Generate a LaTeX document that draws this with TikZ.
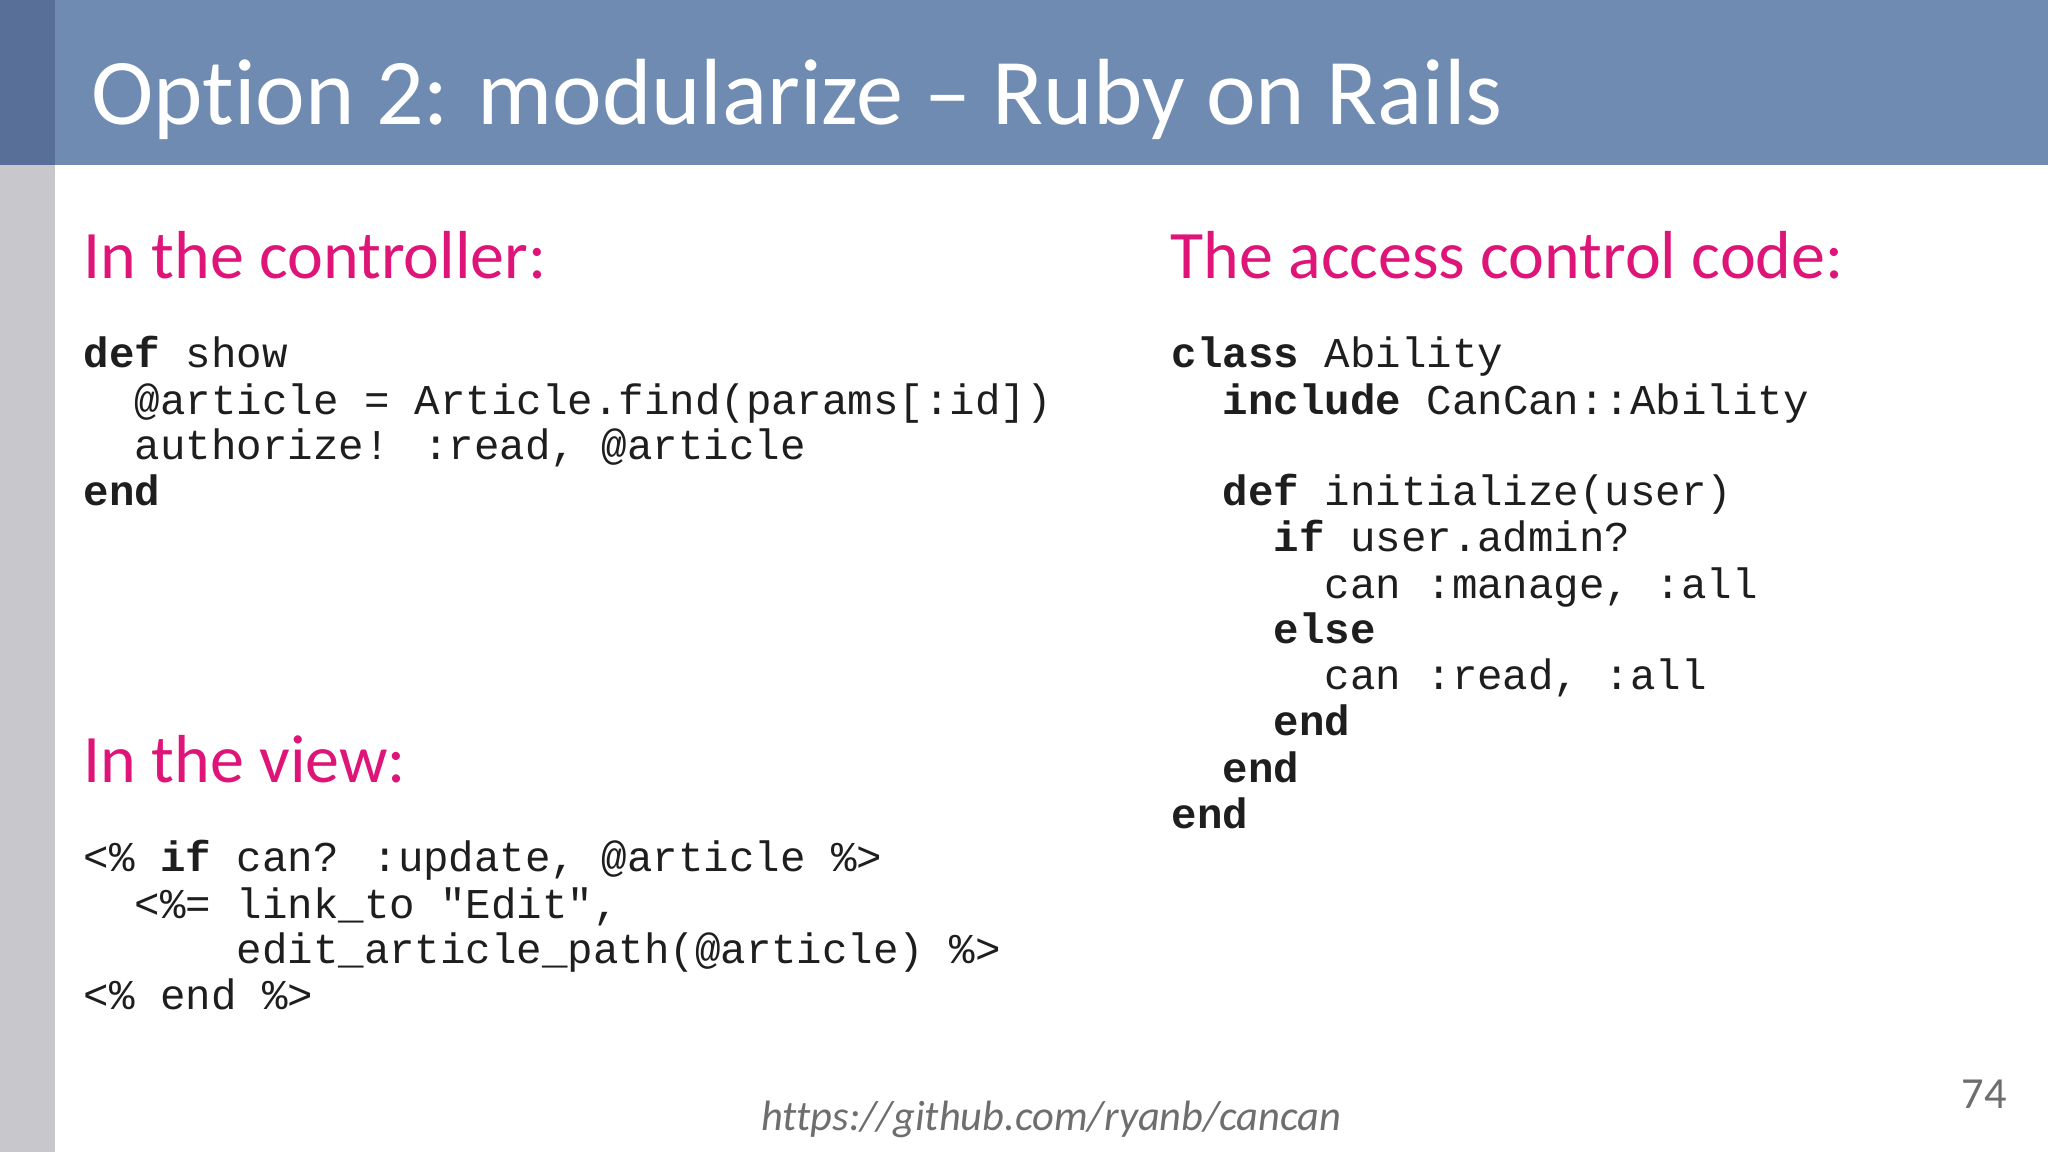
\documentclass[tikz,border=0pt]{standalone}
\usepackage{fontspec}
\setmainfont{Carlito}[Ligatures=NoCommon]
\newfontfamily\codef{Liberation Mono}
\definecolor{band}{RGB}{112,139,177}
\definecolor{bandd}{RGB}{88,112,152}
\definecolor{side}{RGB}{200,200,204}
\definecolor{pink}{RGB}{222,20,120}
\definecolor{txt}{RGB}{30,30,30}
\definecolor{foot}{RGB}{110,110,110}
\tikzset{
 code/.style={anchor=base west,inner sep=0pt,font=\codef\fontsize{32.5}{35}\selectfont,text=txt},
 head/.style={anchor=west,inner sep=0pt,font=\fontsize{52}{58}\selectfont,text=pink},
}
\newcommand{\ind}[1]{\hspace*{#1\dimexpr 0.6em\relax}}
\begin{document}
\begin{tikzpicture}[x=1pt,y=-1pt]
\useasboundingbox (0,0) rectangle (1568,882);
\fill[white] (0,0) rectangle (1568,882);
\fill[side] (0,0) rectangle (42,882);
\fill[band] (0,0) rectangle (1568,126);
\fill[bandd] (0,0) rectangle (42,126);
\node[anchor=west,inner sep=0pt,text=white,font=\fontsize{72}{80}\selectfont] (title) at (70,76) {Option 2: modularize – Ruby on Rails};
\node[head] (h1) at (64,195) {In the controller:};
\node[head] (h2) at (64,581) {In the view:};
\node[head] (h3) at (896,195) {The access control code:};
% controller
\node[code] (c1) at (64,281) {\textbf{def} show};
\node[code] (c2) at (64,317) {\ind{2}@article = Article.find(params[:id])};
\node[code] (c3) at (64,352) {\ind{2}authorize! :read, @article};
\node[code] (c4) at (64,387) {\textbf{end}};
% view
\node[code] (v1) at (64,667) {<\% \textbf{if} can? :update, @article \%>};
\node[code] (v2) at (64,703) {\ind{2}<\%= link\_to "Edit",};
\node[code] (v3) at (64,738) {\ind{6}edit\_article\_path(@article) \%>};
\node[code] (v4) at (64,773) {<\% end \%>};
% ability
\node[code] (a1) at (897,281) {\textbf{class} Ability};
\node[code] (a2) at (897,317) {\ind{2}\textbf{include} CanCan::Ability};
\node[code] (a3) at (897,387) {\ind{2}\textbf{def} initialize(user)};
\node[code] (a4) at (897,422) {\ind{4}\textbf{if} user.admin?};
\node[code] (a5) at (897,458) {\ind{6}can :manage, :all};
\node[code] (a6) at (897,493) {\ind{4}\textbf{else}};
\node[code] (a7) at (897,528) {\ind{6}can :read, :all};
\node[code] (a8) at (897,563) {\ind{4}\textbf{end}};
\node[code] (a9) at (897,599) {\ind{2}\textbf{end}};
\node[code] (a10) at (897,634) {\textbf{end}};
\node[text=foot,inner sep=0pt,font=\fontsize{32.5}{36}\selectfont\itshape] (url) at (805,857) {https://github.com/ryanb/cancan};
\node[text=foot,inner sep=0pt,font=\fontsize{34}{38}\selectfont] (pg) at (1519,838) {74};
\end{tikzpicture}
\end{document}
